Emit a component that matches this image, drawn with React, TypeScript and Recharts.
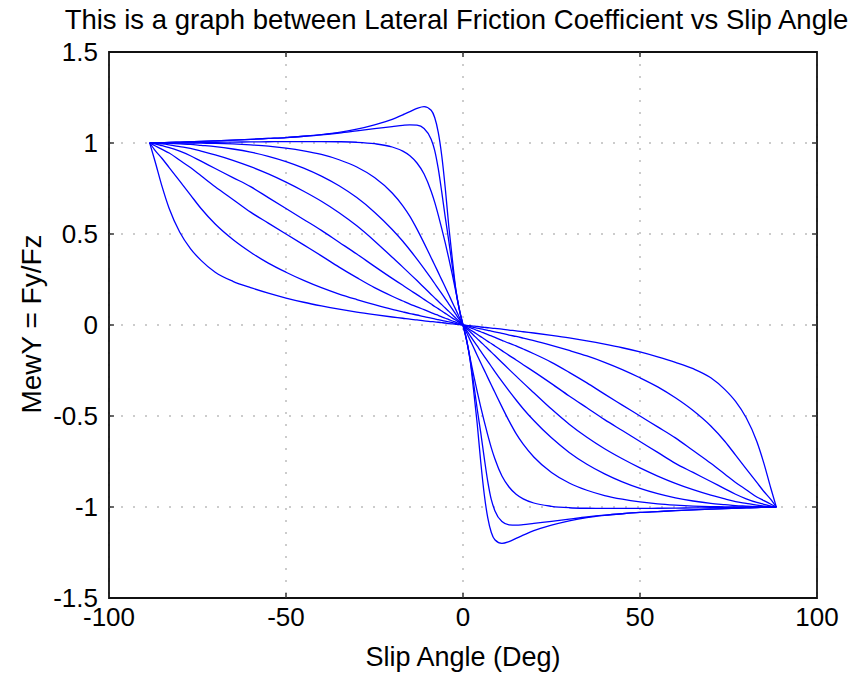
import React from 'react';
import {
  LineChart,
  Line,
  XAxis,
  YAxis,
  CartesianGrid,
  ReferenceLine,
  ReferenceArea
} from "recharts";

const FONT = "'Liberation Sans', Arial, Helvetica, sans-serif";

// slip angle samples (deg), denser near zero where the curves are steep
const XS = [
  -88.5, -87, -85, -83, -80, -77, -74, -70, -65, -60, -55, -50, -45, -40, -35, -30,
  -25, -20, -17, -15, -13, -11, -9, -8, -7, -6, -5, -4, -3, -2, -1,
  0,
  1, 2, 3, 4, 5, 6, 7, 8, 9, 11, 13, 15, 17, 20, 25,
  30, 35, 40, 45, 50, 55, 60, 65, 70, 74, 77, 80, 83, 85, 87, 88.5
];

// each curve: left half (x < 0), then 0, then right half (x > 0)
const C1_L = [1, 0.9, 0.76, 0.64, 0.51, 0.42, 0.355, 0.29, 0.24, 0.205, 0.175, 0.148, 0.125, 0.105, 0.087, 0.071, 0.057, 0.044, 0.037, 0.032, 0.028, 0.023, 0.019, 0.017, 0.015, 0.013, 0.011, 0.008, 0.006, 0.004, 0.002];
const C1_R = [-0.002, -0.004, -0.006, -0.008, -0.011, -0.013, -0.015, -0.017, -0.019, -0.023, -0.028, -0.032, -0.037, -0.044, -0.057, -0.071, -0.087, -0.105, -0.125, -0.148, -0.175, -0.205, -0.24, -0.29, -0.355, -0.42, -0.51, -0.64, -0.76, -0.9, -1];

const C2_L = [1, 0.96, 0.915, 0.865, 0.79, 0.715, 0.64, 0.555, 0.47, 0.4, 0.34, 0.29, 0.245, 0.205, 0.17, 0.14, 0.112, 0.086, 0.072, 0.063, 0.055, 0.046, 0.038, 0.034, 0.029, 0.025, 0.021, 0.017, 0.013, 0.008, 0.004];
const C2_R = [-0.004, -0.008, -0.013, -0.017, -0.021, -0.025, -0.029, -0.034, -0.038, -0.046, -0.055, -0.063, -0.072, -0.086, -0.112, -0.14, -0.17, -0.205, -0.245, -0.29, -0.34, -0.4, -0.47, -0.555, -0.64, -0.715, -0.79, -0.865, -0.915, -0.96, -1];

const C3_L = [1, 0.985, 0.965, 0.945, 0.905, 0.865, 0.82, 0.76, 0.69, 0.62, 0.56, 0.5, 0.44, 0.38, 0.318, 0.26, 0.205, 0.158, 0.132, 0.115, 0.1, 0.084, 0.068, 0.06, 0.053, 0.045, 0.037, 0.03, 0.022, 0.015, 0.007];
const C3_R = [-0.007, -0.015, -0.022, -0.03, -0.037, -0.045, -0.053, -0.06, -0.068, -0.084, -0.1, -0.115, -0.132, -0.158, -0.205, -0.26, -0.318, -0.38, -0.44, -0.5, -0.56, -0.62, -0.69, -0.76, -0.82, -0.865, -0.905, -0.945, -0.965, -0.985, -1];

const C4_L = [1, 0.995, 0.985, 0.975, 0.955, 0.93, 0.9, 0.86, 0.81, 0.76, 0.7, 0.64, 0.58, 0.52, 0.455, 0.39, 0.322, 0.256, 0.218, 0.192, 0.167, 0.141, 0.115, 0.102, 0.09, 0.077, 0.064, 0.051, 0.038, 0.026, 0.013];
const C4_R = [-0.013, -0.026, -0.038, -0.051, -0.064, -0.077, -0.09, -0.102, -0.115, -0.141, -0.167, -0.192, -0.218, -0.256, -0.322, -0.39, -0.455, -0.52, -0.58, -0.64, -0.7, -0.76, -0.81, -0.86, -0.9, -0.93, -0.955, -0.975, -0.985, -0.995, -1];

const C5_L = [1, 0.998, 0.995, 0.99, 0.98, 0.97, 0.955, 0.935, 0.905, 0.87, 0.83, 0.785, 0.735, 0.68, 0.617, 0.545, 0.462, 0.372, 0.318, 0.281, 0.244, 0.206, 0.168, 0.149, 0.13, 0.112, 0.093, 0.075, 0.056, 0.037, 0.019];
const C5_R = [-0.019, -0.037, -0.056, -0.075, -0.093, -0.112, -0.13, -0.149, -0.168, -0.206, -0.244, -0.281, -0.318, -0.372, -0.462, -0.545, -0.617, -0.68, -0.735, -0.785, -0.83, -0.87, -0.905, -0.935, -0.955, -0.97, -0.98, -0.99, -0.995, -0.998, -1];

const C6_L = [1, 1, 1, 0.998, 0.995, 0.992, 0.987, 0.98, 0.967, 0.95, 0.927, 0.898, 0.862, 0.818, 0.765, 0.7, 0.62, 0.525, 0.46, 0.412, 0.362, 0.31, 0.256, 0.228, 0.2, 0.172, 0.144, 0.115, 0.087, 0.058, 0.029];
const C6_R = [-0.029, -0.058, -0.087, -0.115, -0.144, -0.172, -0.2, -0.228, -0.256, -0.31, -0.362, -0.412, -0.46, -0.525, -0.62, -0.7, -0.765, -0.818, -0.862, -0.898, -0.927, -0.95, -0.967, -0.98, -0.987, -0.992, -0.995, -0.998, -1, -1, -1];

const C7_L = [1, 1, 1, 1, 1, 1, 0.999, 0.998, 0.995, 0.99, 0.983, 0.972, 0.957, 0.937, 0.908, 0.868, 0.81, 0.725, 0.655, 0.597, 0.527, 0.45, 0.37, 0.33, 0.289, 0.248, 0.207, 0.166, 0.124, 0.083, 0.041];
const C7_R = [-0.041, -0.083, -0.124, -0.166, -0.207, -0.248, -0.289, -0.33, -0.37, -0.45, -0.527, -0.597, -0.655, -0.725, -0.81, -0.868, -0.908, -0.937, -0.957, -0.972, -0.983, -0.99, -0.995, -0.998, -0.999, -1, -1, -1, -1, -1, -1];

const C8_L = [1, 1, 1, 1, 1.001, 1.002, 1.003, 1.004, 1.005, 1.006, 1.007, 1.008, 1.008, 1.008, 1.007, 1.004, 0.996, 0.978, 0.955, 0.93, 0.89, 0.83, 0.735, 0.675, 0.605, 0.53, 0.45, 0.365, 0.275, 0.18, 0.085];
const C8_R = [-0.085, -0.18, -0.275, -0.365, -0.45, -0.53, -0.605, -0.675, -0.735, -0.83, -0.89, -0.93, -0.955, -0.978, -0.996, -1.004, -1.007, -1.008, -1.008, -1.008, -1.007, -1.006, -1.005, -1.004, -1.003, -1.002, -1.001, -1, -1, -1, -1];

const C9_L = [1, 1.001, 1.002, 1.003, 1.005, 1.007, 1.009, 1.012, 1.016, 1.02, 1.025, 1.03, 1.037, 1.045, 1.055, 1.067, 1.079, 1.09, 1.097, 1.1, 1.098, 1.08, 1.02, 0.96, 0.86, 0.73, 0.59, 0.46, 0.32, 0.19, 0.08];
const C9_R = [-0.08, -0.19, -0.32, -0.46, -0.59, -0.73, -0.86, -0.96, -1.02, -1.08, -1.098, -1.1, -1.097, -1.09, -1.079, -1.067, -1.055, -1.045, -1.037, -1.03, -1.025, -1.02, -1.016, -1.012, -1.009, -1.007, -1.005, -1.003, -1.002, -1.001, -1];

const C10_L = [1, 1.001, 1.002, 1.003, 1.005, 1.007, 1.009, 1.012, 1.016, 1.02, 1.025, 1.03, 1.037, 1.046, 1.058, 1.076, 1.1, 1.13, 1.155, 1.172, 1.19, 1.2, 1.18, 1.14, 1.06, 0.93, 0.75, 0.54, 0.36, 0.19, 0.08];
const C10_R = [-0.08, -0.19, -0.36, -0.54, -0.75, -0.93, -1.06, -1.14, -1.18, -1.2, -1.19, -1.172, -1.155, -1.13, -1.1, -1.076, -1.058, -1.046, -1.037, -1.03, -1.025, -1.02, -1.016, -1.012, -1.009, -1.007, -1.005, -1.003, -1.002, -1.001, -1];

const CURVES = [
  [...C1_L, 0, ...C1_R],
  [...C2_L, 0, ...C2_R],
  [...C3_L, 0, ...C3_R],
  [...C4_L, 0, ...C4_R],
  [...C5_L, 0, ...C5_R],
  [...C6_L, 0, ...C6_R],
  [...C7_L, 0, ...C7_R],
  [...C8_L, 0, ...C8_R],
  [...C9_L, 0, ...C9_R],
  [...C10_L, 0, ...C10_R],
];

const X_TICKS = [-100, -50, 0, 50, 100];
const Y_TICKS = [-1.5, -1, -0.5, 0, 0.5, 1, 1.5];

const data = XS.map((x, i) => {
  const row: { [key: string]: number } = { x };
  CURVES.forEach((c, k) => { row[`c${k + 1}`] = c[i]; });
  return row;
});

const tickStyle = { fill: '#000', fontSize: 26, fontFamily: FONT };

export default function App() {
  return (
    <div style={{ position: 'relative', width: 861, height: 675, background: '#fff', fontFamily: FONT }}>
      <style>{`body{margin:0}`}</style>
      <div style={{ position: 'absolute', left: 0, width: 913, top: 6, textAlign: 'center', fontSize: 27.5, lineHeight: '27px', whiteSpace: 'nowrap' }}>
        This is a graph between Lateral Friction Coefficient vs Slip Angle
      </div>
      <LineChart
        width={861}
        height={675}
        data={data}
        margin={{ top: 52, right: 44, left: 0, bottom: 0 }}
      >
        <CartesianGrid stroke="#999" strokeDasharray="2 10" />
        <XAxis
          dataKey="x"
          type="number"
          domain={[-100, 100]}
          ticks={X_TICKS}
          tickLine={false}
          axisLine={false}
          tickSize={0}
          tickMargin={10}
          height={77}
          tick={tickStyle}
        />
        <YAxis
          type="number"
          domain={[-1.5, 1.5]}
          ticks={Y_TICKS}
          tickLine={false}
          axisLine={false}
          tickSize={0}
          tickMargin={11}
          width={109}
          tick={tickStyle}
        />
        {X_TICKS.slice(1, -1).map((t) => (
          <ReferenceLine key={`xb${t}`} segment={[{ x: t, y: -1.5 }, { x: t, y: -1.472 }]} stroke="#333" strokeWidth={1.5} />
        ))}
        {X_TICKS.slice(1, -1).map((t) => (
          <ReferenceLine key={`xt${t}`} segment={[{ x: t, y: 1.5 }, { x: t, y: 1.472 }]} stroke="#333" strokeWidth={1.5} />
        ))}
        {Y_TICKS.slice(1, -1).map((t) => (
          <ReferenceLine key={`yl${t}`} segment={[{ x: -100, y: t }, { x: -98.6, y: t }]} stroke="#333" strokeWidth={1.5} />
        ))}
        {Y_TICKS.slice(1, -1).map((t) => (
          <ReferenceLine key={`yr${t}`} segment={[{ x: 100, y: t }, { x: 98.6, y: t }]} stroke="#333" strokeWidth={1.5} />
        ))}
        {CURVES.map((_, k) => (
          <Line
            key={k}
            dataKey={`c${k + 1}`}
            type="monotone"
            stroke="#0000ff"
            strokeWidth={1.3}
            dot={false}
            activeDot={false}
            isAnimationActive={false}
          />
        ))}
        <ReferenceArea x1={-100} x2={100} y1={-1.5} y2={1.5} fill="none" stroke="#111" strokeWidth={1.8} />
      </LineChart>
      <div style={{ position: 'absolute', left: 0, width: 926, top: 644, textAlign: 'center', fontSize: 27, lineHeight: '27px', whiteSpace: 'nowrap' }}>
        Slip Angle (Deg)
      </div>
      <div style={{ position: 'absolute', left: 32, top: 324, transform: 'translate(-50%, -50%) rotate(-90deg)', fontSize: 28, lineHeight: '28px', whiteSpace: 'nowrap' }}>
        MewY = Fy/Fz
      </div>
    </div>
  );
}
